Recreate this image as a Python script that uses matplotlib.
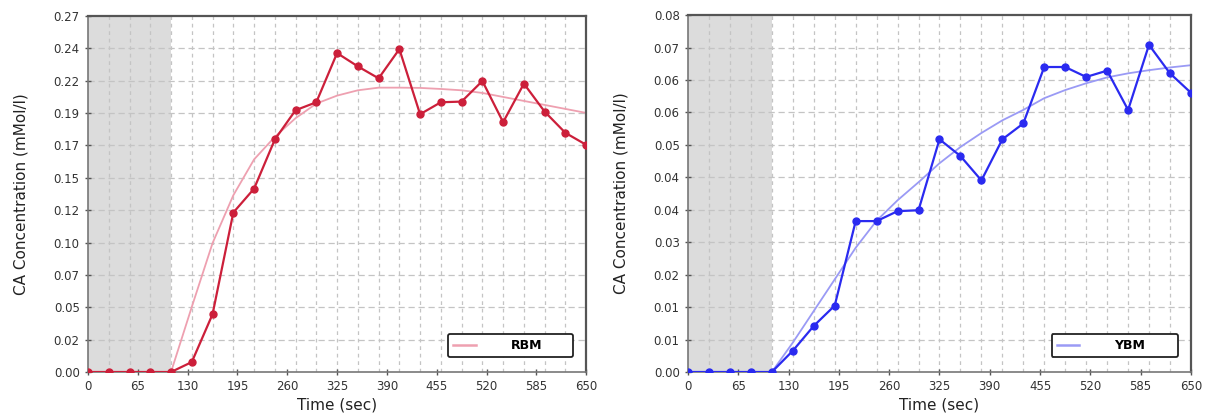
import numpy as np
import matplotlib
matplotlib.use("Agg")
import matplotlib.pyplot as plt
from matplotlib.lines import Line2D

# -----------------------------
# Data
# -----------------------------
time = [0, 27.1, 54.2, 81.3, 108.3, 135.4, 162.5, 189.6, 216.7, 243.8,
        270.8, 297.9, 325.0, 352.1, 379.2, 406.3, 433.3, 460.4, 487.5,
        514.6, 541.7, 568.8, 595.8, 622.9, 650.0]

rbm = [0, 0, 0, 0, 0, 0.0075, 0.0435, 0.120, 0.138, 0.175,
       0.197, 0.203, 0.240, 0.230, 0.221, 0.243, 0.194, 0.203, 0.2035,
       0.219, 0.188, 0.217, 0.196, 0.180, 0.171]
rbm_fit = [0, 0, 0, 0, 0, 0.049, 0.097, 0.133, 0.160, 0.177,
           0.191, 0.202, 0.208, 0.212, 0.214, 0.214, 0.2138, 0.213, 0.212,
           0.210, 0.207, 0.204, 0.201, 0.198, 0.195]

ybm = [0, 0, 0, 0, 0, 0.0047, 0.0102, 0.0147, 0.0334, 0.0334,
       0.0356, 0.0358, 0.0515, 0.0478, 0.0424, 0.0515, 0.055, 0.0675, 0.0675,
       0.0653, 0.0667, 0.058, 0.0724, 0.0661, 0.0618]
ybm_fit = [0, 0, 0, 0, 0, 0.0065, 0.0135, 0.0205, 0.0275, 0.0335,
           0.038, 0.042, 0.0462, 0.0498, 0.0529, 0.0557, 0.058, 0.0606, 0.0624,
           0.0639, 0.0652, 0.0661, 0.0668, 0.0674, 0.0679]

x_ticks = [0, 65, 130, 195, 260, 325, 390, 455, 520, 585, 650]
rbm_ylabels = ["0.00", "0.02", "0.05", "0.07", "0.10", "0.12", "0.15",
               "0.17", "0.19", "0.22", "0.24", "0.27"]
ybm_ylabels = ["0.00", "0.01", "0.01", "0.02", "0.03", "0.04", "0.04",
               "0.05", "0.06", "0.06", "0.07", "0.08"]
rbm_ymax = 0.268
ybm_ymax = 0.079
baseline_end = 108.3

# -----------------------------
# Figure
# -----------------------------
fig = plt.figure(figsize=(12.06, 4.18), dpi=100)
ax1 = fig.add_axes([0.073, 0.110, 0.413, 0.852])
ax2 = fig.add_axes([0.5705, 0.110, 0.417, 0.854])


def draw(ax, y, yfit, ymax, ylabels, col, fitcol, name):
    ax.axvspan(0, baseline_end, color="#dcdcdc", zorder=0, lw=0)
    yt = np.linspace(0, ymax, len(ylabels))
    for t in time[1:-1]:
        ax.axvline(t, color="#c4c4c4", lw=0.9, ls=(0, (3, 3)), zorder=1)
    for v in yt[1:-1]:
        ax.axhline(v, color="#c4c4c4", lw=0.9, ls=(0, (5, 3)), zorder=1)
    ax.plot(time, yfit, color=fitcol, lw=1.3, zorder=2)
    ax.plot(time, y, color=col, lw=1.6, marker="o", ms=5, zorder=3)
    ax.set_xlim(0, 650)
    ax.set_ylim(0, ymax)
    ax.set_xticks(x_ticks)
    ax.set_yticks(yt)
    ax.set_yticklabels(ylabels)
    ax.tick_params(labelsize=8.5, labelcolor="#333333", color="#555555",
                   direction="inout", length=5, width=1)
    ax.set_xlabel("Time (sec)", fontsize=11, color="#222222")
    ax.xaxis.set_label_coords(0.5, -0.072)
    ax.set_ylabel("CA Concentration (mMol/l)", fontsize=11, color="#222222",
                  labelpad=18)
    for s in ["top", "right"]:
        ax.spines[s].set_color("#555555")
        ax.spines[s].set_linewidth(1.6)
    for s in ["left", "bottom"]:
        ax.spines[s].set_color("#777777")
        ax.spines[s].set_linewidth(1.2)
    h = Line2D([0], [0], color=fitcol, lw=1.8)
    leg = ax.legend([h], [name], loc="lower right", mode="expand",
                    bbox_to_anchor=(0.723, 0.042, 0.251, 0.08),
                    borderaxespad=0, handlelength=1.8, handletextpad=2.8,
                    fancybox=True, shadow=False, framealpha=1,
                    prop={"weight": "bold", "size": 9})
    leg.get_frame().set_edgecolor("#222222")
    leg.get_frame().set_linewidth(1.3)
    leg.get_frame().set_boxstyle("round,pad=0,rounding_size=0.15")


draw(ax1, rbm, rbm_fit, rbm_ymax, rbm_ylabels, "#cc1f3a", "#eea0b0", "RBM")
draw(ax2, ybm, ybm_fit, ybm_ymax, ybm_ylabels, "#2a2af0", "#9a9af5", "YBM")

fig.savefig("out.png", dpi=100)
